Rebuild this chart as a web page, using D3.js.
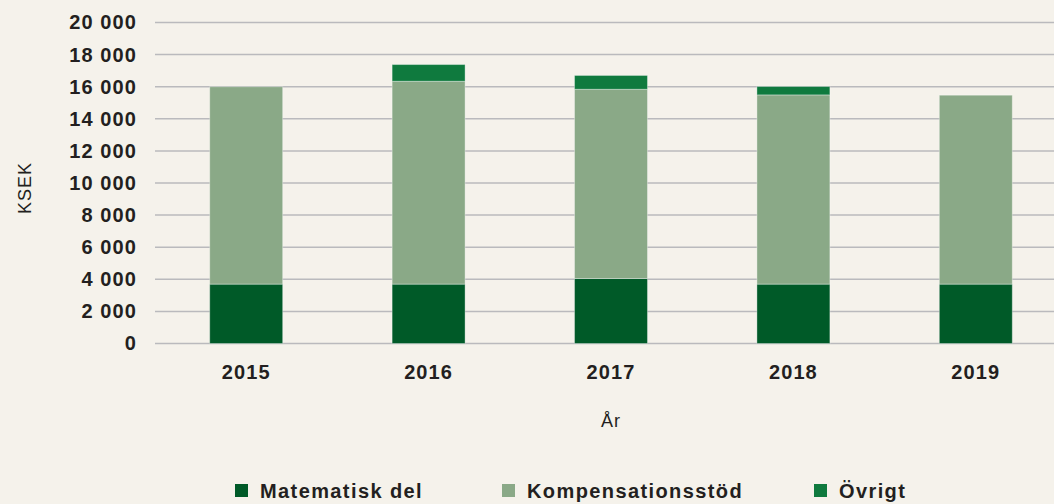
<!DOCTYPE html>
<html>
<head>
<meta charset="utf-8">
<script src="https://cdn.jsdelivr.net/npm/d3@7"></script>
<style>
  body { margin: 0; background: #f5f2eb; }
  text { font-family: "Liberation Sans", Arial, sans-serif; fill: #231f20; }
</style>
</head>
<body>
<div id="chart"></div>
<script>
// data (KSEK)
const years = ["2015", "2016", "2017", "2018", "2019"];
const matematisk = [3700, 3700, 4050, 3700, 3700];
const kompensation = [12300, 12640, 11790, 11790, 11770];
const ovrigt = [0, 1040, 860, 520, 0];
const seriesNames = ["Matematisk del", "Kompensationsstöd", "Övrigt"];
const seriesColors = ["#005a28", "#8aa987", "#0f7a3e"];
const yTicks = [0, 2000, 4000, 6000, 8000, 10000, 12000, 14000, 16000, 18000, 20000];

var width = 1054, height = 504;

var svg = d3.select("#chart").append("svg")
    .attr("width", width)
    .attr("height", height);

//x scale for years
var x = d3.scaleBand()
    .domain(years)
    .range([155, 1067])
    .paddingInner(0.6)
    .paddingOuter(0.3);

//y scale
var y = d3.scaleLinear()
    .domain([0, 20000])
    .range([343.5, 22.5]);

//gridlines
svg.append("g")
    .selectAll("line")
    .data(yTicks)
    .enter()
    .append("line")
        .attr("x1", 155)
        .attr("x2", width)
        .attr("y1", d => y(d))
        .attr("y2", d => y(d))
        .style("stroke", "#bababd")
        .style("stroke-width", 1.5);

//y axis labels
var yAxis = svg.append("g")
    .attr("transform", "translate(137,0)")
    .call(d3.axisLeft(y).tickValues(yTicks).tickSize(0).tickPadding(0)
        .tickFormat(d => d3.format(",")(d).replace(/,/g, " ")));
yAxis.select(".domain").remove();
yAxis.selectAll("text")
    .style("font-size", "20px")
    .style("font-weight", "bold")
    .style("letter-spacing", "1.1px")
    .style("fill", "#231f20")
    .attr("font-family", null);

//x axis labels
var xAxis = svg.append("g")
    .attr("transform", "translate(0,365)")
    .call(d3.axisBottom(x).tickSize(0).tickPadding(0));
xAxis.select(".domain").remove();
xAxis.selectAll("text")
    .style("font-size", "20px")
    .style("font-weight", "bold")
    .style("letter-spacing", "1.1px")
    .style("fill", "#231f20")
    .attr("font-family", null);

//stack the series
var rows = years.map((yr, i) => ({
    year: yr, m: matematisk[i], k: kompensation[i], o: ovrigt[i]
}));
var stack = d3.stack().keys(["m", "k", "o"])(rows);

svg.append("g")
    .selectAll("g")
    .data(stack)
    .enter()
    .append("g")
        .style("fill", (d, i) => seriesColors[i])
    .selectAll("rect")
    .data(d => d.filter(p => p[1] - p[0] > 0))
    .enter()
    .append("rect")
        .attr("x", d => x(d.data.year))
        .attr("width", x.bandwidth())
        .attr("y", d => y(d[1]))
        .attr("height", d => y(d[0]) - y(d[1]))
        .style("stroke", "rgba(255,255,255,0.35)")
        .style("stroke-width", 1);

//y-axis label
svg.append("text")
    .attr("transform", "translate(31,188) rotate(-90)")
    .attr("text-anchor", "middle")
    .style("font-size", "18px")
    .style("letter-spacing", "1px")
    .text("KSEK");

//x-axis label
svg.append("text")
    .attr("x", 611)
    .attr("y", 427)
    .attr("text-anchor", "middle")
    .style("font-size", "18px")
    .style("letter-spacing", "1px")
    .text("År");

//legend
var legendX = [235, 502, 814];
var legend = svg.append("g")
    .selectAll("g")
    .data(seriesNames)
    .enter()
    .append("g")
        .attr("transform", (d, i) => "translate(" + legendX[i] + ",484)");
legend.append("rect")
    .attr("width", 13)
    .attr("height", 13)
    .style("fill", (d, i) => seriesColors[i]);
legend.append("text")
    .attr("x", 25)
    .attr("y", 14)
    .style("font-size", "20px")
    .style("font-weight", "bold")
    .style("letter-spacing", "1.4px")
    .text(d => d);
</script>
</body>
</html>
